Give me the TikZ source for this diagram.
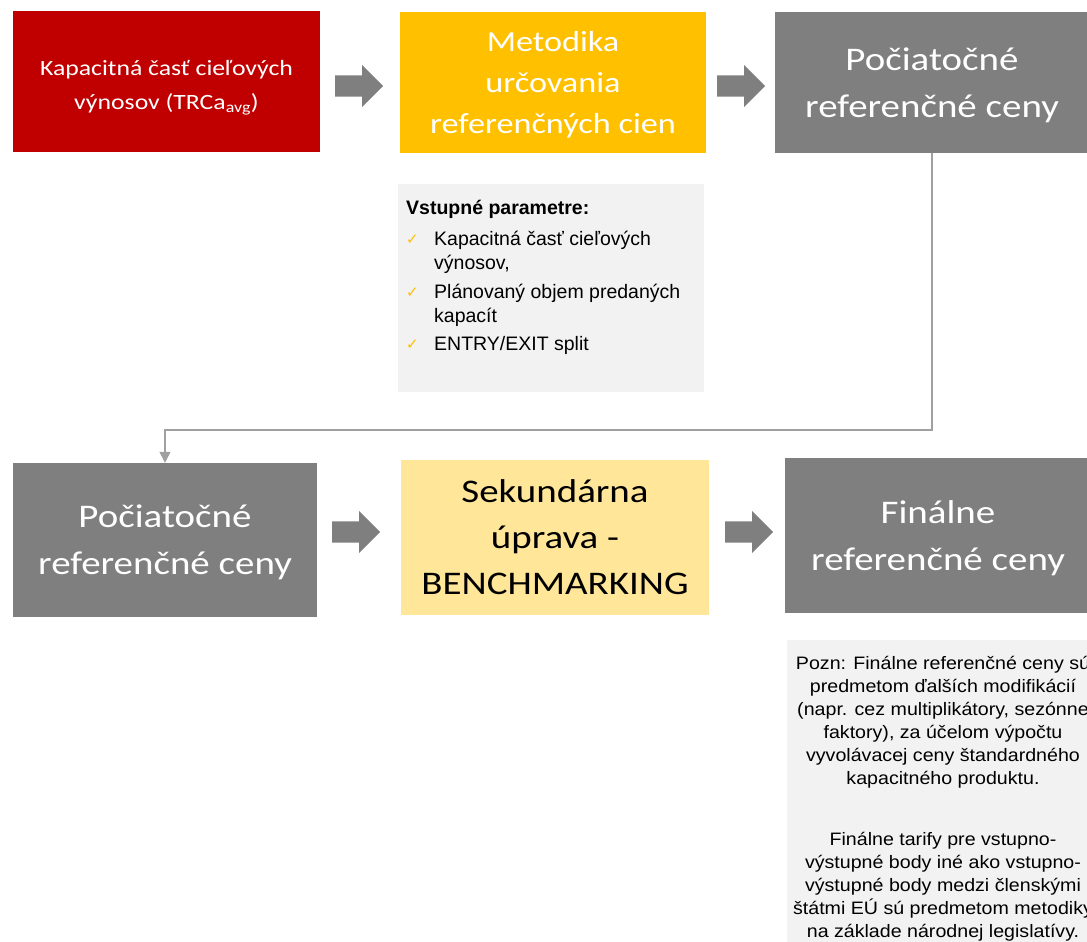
\documentclass[tikz,border=0pt]{standalone}
\usepackage{fontspec}
\setmainfont{Carlito}[FakeStretch=1.18]
\newfontfamily\arialfont{Liberation Sans}
\newfontfamily\arialwide{Liberation Sans}[FakeStretch=1.09]
\newfontfamily\symfont{DejaVu Sans}
\usepackage{tikz}
\usetikzlibrary{shapes.arrows,arrows.meta}

\definecolor{kapred}{HTML}{C00000}
\definecolor{metorange}{HTML}{FFC000}
\definecolor{cenagray}{HTML}{7F7F7F}
\definecolor{sekyellow}{HTML}{FFE699}
\definecolor{poznbg}{HTML}{F2F2F2}
\definecolor{linegray}{HTML}{A0A0A0}

\newcommand{\chk}{\makebox[28pt][l]{\raisebox{1pt}{\symfont\fontsize{15}{15}\selectfont\color{metorange}✓}}}

\begin{document}
\begin{tikzpicture}[x=1pt, y=-1pt,
    krok/.style={inner sep=0pt, align=center, text=white, text depth=0pt},
    blockarrow/.style={single arrow, fill=cenagray, inner xsep=0pt, inner ysep=10.5pt,
      minimum height=48pt, minimum width=42pt, single arrow head extend=10.5pt,
      single arrow head indent=0pt, anchor=tail}]
    \useasboundingbox (0,0) rectangle (1087,942);
    \clip (0,0) rectangle (1087,942);

    % top row
    \node[krok, fill=kapred, minimum width=307pt, minimum height=141pt,
      font=\fontsize{21.8}{33}\selectfont] (kap) at (166.5, 81.5)
      {\rule{0pt}{3pt}\\[-14pt]Kapacitná časť cieľových\\výnosov (TRCa\textsubscript{avg})};
    \node[krok, fill=metorange, minimum width=306pt, minimum height=141pt,
      font=\fontsize{29}{41}\selectfont] (metod) at (553, 82.5)
      {Metodika\\určovania\\referenčných cien};
    \node[krok, fill=cenagray, minimum width=314pt, minimum height=141pt,
      font=\fontsize{33}{47}\selectfont] (poc1) at (932, 82.5)
      {Počiatočné\\referenčné ceny};

    % input parameters
    \node[fill=poznbg, minimum width=306pt, minimum height=208pt] (vstupbox) at (551, 288) {};
    \node[anchor=north west, inner sep=0pt, align=left,
      font=\arialfont\fontsize{19.5}{24}\selectfont] (vstup) at (406, 200)
      {\textbf{Vstupné parametre:}\\[7pt]
       \chk Kapacitná časť cieľových\\
       \hspace*{28pt}výnosov,\\[5pt]
       \chk Plánovaný objem predaných\\
       \hspace*{28pt}kapacít\\[4pt]
       \chk ENTRY/EXIT split};

    % bottom row
    \node[krok, fill=cenagray, minimum width=304pt, minimum height=154pt,
      font=\fontsize{33}{47}\selectfont] (poc2) at (165, 540)
      {Počiatočné\\referenčné ceny};
    \node[krok, text=black, fill=sekyellow, minimum width=308pt, minimum height=155pt,
      font=\fontsize{33}{46}\selectfont] (sek) at (555, 537.5)
      {Sekundárna\\úprava -\\BENCHMARKING};
    \node[krok, fill=cenagray, minimum width=306pt, minimum height=155pt,
      font=\fontsize{33}{47}\selectfont] (fin) at (938, 535.5)
      {Finálne\\referenčné ceny};

    % note
    \node[fill=poznbg, minimum width=308pt, minimum height=320pt] (poznbox) at (941, 800) {};
    \node[anchor=north, inner sep=0pt, align=center,
      font=\arialwide\fontsize{18}{23}\selectfont] (pozn) at (943, 656)
      {Pozn: Finálne referenčné ceny sú\\
       predmetom ďalších modifikácií\\
       (napr. cez multiplikátory, sezónne\\
       faktory), za účelom výpočtu\\
       vyvolávacej ceny štandardného\\
       kapacitného produktu.\\[38pt]
       Finálne tarify pre vstupno-\\
       výstupné body iné ako vstupno-\\
       výstupné body medzi členskými\\
       štátmi EÚ sú predmetom metodiky\\
       na základe národnej legislatívy.};

    % block arrows
    \foreach [count=\i] \x/\y in {335/86, 717/86, 332/532, 725/532} {
      \node[blockarrow] (arr\i) at (\x, \y) {};
    }

    % connector
    \coordinate (ohyb) at (932, 430);
    \draw[linegray, line width=1.2pt, -{Triangle[width=11pt, length=11pt]}]
      (poc1.south) |- (ohyb) -| (poc2.north);
\end{tikzpicture}
\end{document}
